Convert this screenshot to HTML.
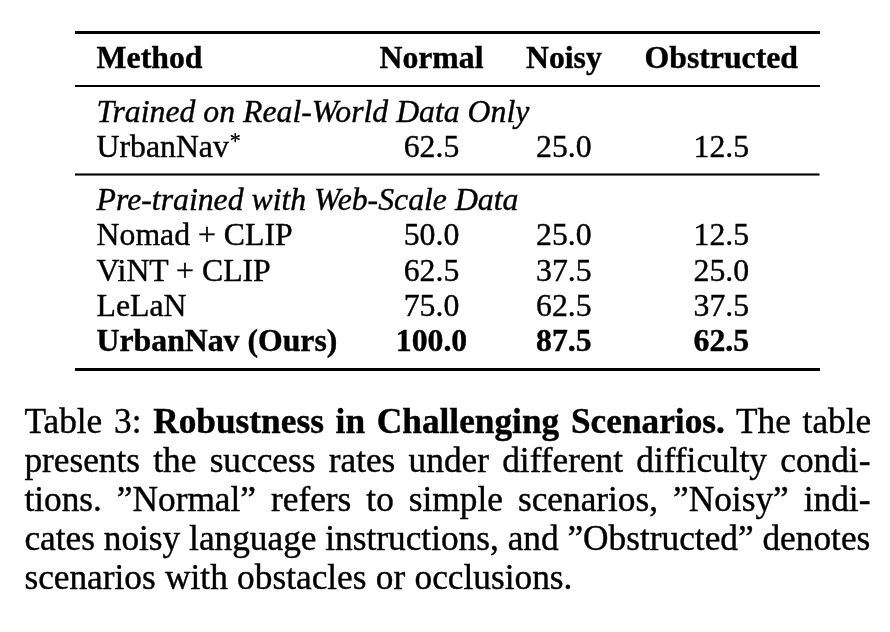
<!DOCTYPE html>
<html>
<head>
<meta charset="utf-8">
<title>Table 3</title>
<style>
html,body{margin:0;padding:0;background:#fff;}
body{width:890px;height:632px;position:relative;overflow:hidden;font-family:"Liberation Serif",serif;color:#000;}
#w{position:absolute;left:0;top:0;width:890px;height:632px;will-change:transform;}
.r{position:absolute;left:75px;width:744.5px;background:#000;}
.t{position:absolute;white-space:nowrap;font-size:31.75px;line-height:36.0px;height:36.0px;-webkit-text-stroke:0.4px #000;}
.c{text-align:center;width:200px;}
.b{font-weight:bold;}
.i{font-style:italic;}
.cap{position:absolute;left:24.4px;width:846px;font-size:35.3px;line-height:38.9px;height:38.9px;white-space:nowrap;text-align:justify;text-align-last:justify;-webkit-text-stroke:0.4px #000;}
.cap.last{text-align:left;text-align-last:left;word-spacing:0.5px;}
svg{position:absolute;overflow:visible;}
</style>
</head>
<body>
<div id="w">
<div class="r" style="top:31.00px;height:2.80px"></div>
<div class="r" style="top:84.80px;height:2.10px"></div>
<svg style="left:0;top:170px" width="890" height="10" viewBox="0 170 890 10"><rect x="75" y="173.45" width="744.5" height="2.1" fill="#000"/></svg>
<div class="r" style="top:367.80px;height:2.80px"></div>
<div class="t b" style="left:96.60px;top:39.80px">Method</div>
<div class="t c b" style="left:331.50px;top:39.80px">Normal</div>
<div class="t c b" style="left:463.90px;top:39.80px">Noisy</div>
<div class="t c b" style="left:621.30px;top:39.80px">Obstructed</div>
<div class="t i" style="left:96.60px;top:93.80px">Trained on Real-World Data Only</div>
<div class="t " style="left:96.60px;top:128.80px">UrbanNav</div>
<div class="t c " style="left:331.50px;top:128.80px">62.5</div>
<div class="t c " style="left:463.90px;top:128.80px">25.0</div>
<div class="t c " style="left:621.30px;top:128.80px">12.5</div>
<svg style="left:228px;top:130px" width="15" height="15" viewBox="228 130 15 15"><g transform="translate(235.25 137.55)" fill="#000"><path transform="rotate(0)" d="M-0.50 0L-0.88 -3.67A0.88 0.88 0 0 1 0.88 -3.67L0.50 0Z"/><path transform="rotate(180)" d="M-0.50 0L-0.88 -3.67A0.88 0.88 0 0 1 0.88 -3.67L0.50 0Z"/><path transform="rotate(66)" d="M-0.50 0L-0.88 -4.07A0.88 0.88 0 0 1 0.88 -4.07L0.50 0Z"/><path transform="rotate(-66)" d="M-0.50 0L-0.88 -4.07A0.88 0.88 0 0 1 0.88 -4.07L0.50 0Z"/><path transform="rotate(114)" d="M-0.50 0L-0.88 -4.07A0.88 0.88 0 0 1 0.88 -4.07L0.50 0Z"/><path transform="rotate(-114)" d="M-0.50 0L-0.88 -4.07A0.88 0.88 0 0 1 0.88 -4.07L0.50 0Z"/></g></svg>
<div class="t i" style="left:96.60px;top:181.80px">Pre-trained with Web-Scale Data</div>
<div class="t " style="left:96.60px;top:216.80px">Nomad + CLIP</div>
<div class="t c " style="left:331.50px;top:216.80px">50.0</div>
<div class="t c " style="left:463.90px;top:216.80px">25.0</div>
<div class="t c " style="left:621.30px;top:216.80px">12.5</div>
<div class="t " style="left:96.60px;top:252.80px">ViNT + CLIP</div>
<div class="t c " style="left:331.50px;top:252.80px">62.5</div>
<div class="t c " style="left:463.90px;top:252.80px">37.5</div>
<div class="t c " style="left:621.30px;top:252.80px">25.0</div>
<div class="t " style="left:96.60px;top:287.80px">LeLaN</div>
<div class="t c " style="left:331.50px;top:287.80px">75.0</div>
<div class="t c " style="left:463.90px;top:287.80px">62.5</div>
<div class="t c " style="left:621.30px;top:287.80px">37.5</div>
<div class="t b" style="left:96.60px;top:322.80px">UrbanNav (Ours)</div>
<div class="t c b" style="left:331.50px;top:322.80px">100.0</div>
<div class="t c b" style="left:463.90px;top:322.80px">87.5</div>
<div class="t c b" style="left:621.30px;top:322.80px">62.5</div>
<div class="cap" style="top:403.35px;width:846.8px">Table 3: <b>Robustness in Challenging Scenarios.</b> The table</div>
<div class="cap" style="top:442.35px;width:846.0px">presents the success rates under different difficulty condi-</div>
<div class="cap" style="top:481.35px;width:846.0px">tions. ”Normal” refers to simple scenarios, ”Noisy” indi-</div>
<div class="cap" style="top:520.35px;width:844.3px">cates noisy language instructions, and ”Obstructed” denotes</div>
<div class="cap last" style="top:559.35px;width:846.0px">scenarios with obstacles or occlusions.</div>
</div>
</body>
</html>
